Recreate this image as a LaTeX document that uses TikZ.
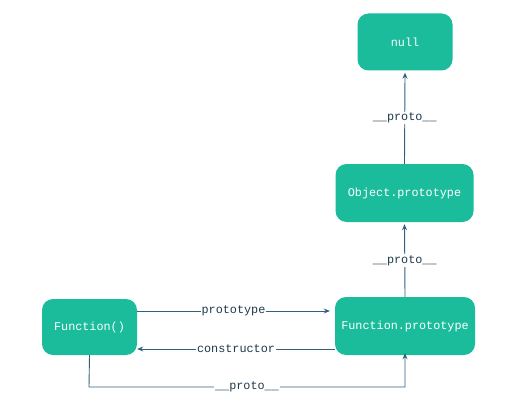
\documentclass[tikz,border=0pt]{standalone}
\usepackage{fontspec}
\setmonofont{Liberation Mono}
\usetikzlibrary{arrows.meta}
\definecolor{boxteal}{HTML}{1ABC9C}
\definecolor{linkblue}{HTML}{34607F}
\begin{document}
\begin{tikzpicture}[x=1pt,y=-1pt,
  objbox/.style={fill=boxteal,draw=none,rounded corners=11pt,text=white,font=\ttfamily\fontsize{11.8}{13}\selectfont,inner sep=0pt,anchor=center},
  link/.style={draw=linkblue,line width=0.9pt,-{Stealth[length=6pt,width=5pt]}},
  lbl/.style={fill=white,text=linkblue!60!black,font=\ttfamily\fontsize{11.8}{13}\selectfont,inner sep=1pt}]
\useasboundingbox (0,0) rectangle (508,409);
\node[objbox,minimum width=95pt,minimum height=57pt] (null) at (405,42) {null};
\node[objbox,minimum width=138pt,minimum height=58pt] (objp) at (404.5,193) {Object.prototype};
\node[objbox,minimum width=140pt,minimum height=58pt] (funp) at (405,326) {Function.prototype};
\node[objbox,minimum width=95pt,minimum height=56pt] (fun) at (89.5,327) {Function()};
\coordinate (c1) at (89,387);
\coordinate (c2) at (405,387);
\draw[link] (objp.north) -- node[lbl,pos=0.5] {\_\_proto\_\_} ([yshift=-2pt]null.south);
\draw[link] (funp.north) -- node[lbl,pos=0.5] {\_\_proto\_\_} ([yshift=-2pt]objp.south);
\draw[link] (fun.east |- 0,311) -- node[lbl,pos=0.5] {prototype} ([xshift=-5pt]funp.west |- 0,311);
\draw[link] (funp.west |- 0,349) -- node[lbl,pos=0.5] {constructor} (fun.east |- 0,349);
\draw[link] (fun.south) -- (c1) -- node[lbl,pos=0.5] {\_\_proto\_\_} (c2) -- ([yshift=2pt]funp.south);
\end{tikzpicture}
\end{document}
